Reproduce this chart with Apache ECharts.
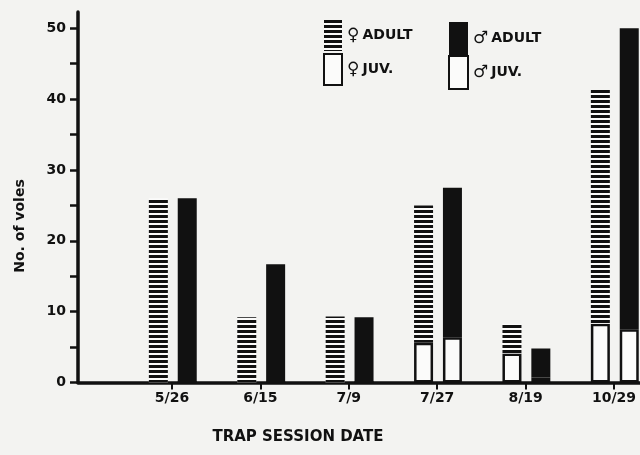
<!DOCTYPE html>
<html><head><meta charset="utf-8">
<script src="https://cdn.jsdelivr.net/npm/echarts@6/dist/echarts.min.js"></script>
<style>html,body{margin:0;padding:0;background:#f3f3f1}#c{width:640px;height:455px}</style>
</head><body><div id="c"></div>
<script>
// Trap session dates (categories)
const dates = ['5/26', '6/15', '7/9', '7/27', '8/19', '10/29'];
// Number of voles per group
const femaleJuv   = [0, 0, 0, 5.6, 4.1, 8.3];
const femaleAdult = [26, 9.2, 9.3, 19.4, 4.2, 33];
const maleJuv     = [0, 0, 0, 6.4, 0.7, 7.5];
const maleAdult   = [26, 16.7, 9.2, 21.1, 4.1, 42.5];
// Axis ticks / labels
const yTicks = [0, 5, 10, 15, 20, 25, 30, 35, 40, 45, 50];
const yLabels = [0, 10, 20, 30, 40, 50];
const xTicks = [0, 1, 2, 3, 4, 5];
const names = ['♀ ADULT', '♀ JUV.', '♂ ADULT', '♂ JUV.'];

const INK = '#111';
const PAPER = '#fbfbfa';
const FONT = 'DejaVu Sans';

const hatch = {
  symbol: 'rect', symbolSize: 1, color: INK,
  dashArrayX: [1, 0], dashArrayY: [2.5, 1.5], rotation: 0
};

const chart = echarts.init(document.getElementById('c'));
const legendText = {
  fontFamily: FONT, fontWeight: 'bold', fontSize: 14, color: INK,
  rich: {
    s: { fontFamily: FONT, fontWeight: 'bold', fontSize: 17, color: INK },
    t: { fontFamily: FONT, fontWeight: 'bold', fontSize: 14, color: INK, padding: [0, 0, 0, 3] }
  }
};
const legendFmt = n => { const p = n.split(' '); return '{s|' + p[0] + '}{t|' + p[1] + '}'; };

chart.setOption({
  backgroundColor: '#f3f3f1',
  animation: false,
  grid: [
    { left: 172.8, width: 442, top: 12, height: 370.5 },
    { left: 78, width: 562, top: 12, height: 370.5 }
  ],
  xAxis: [
    { type: 'category', gridIndex: 0, data: dates, boundaryGap: false, show: false },
    {
      type: 'value', gridIndex: 1, min: -1.063, max: 5.294,
      axisLine: { onZero: false, lineStyle: { color: INK, width: 3.5 } },
      axisTick: { customValues: xTicks, length: 7, lineStyle: { color: INK, width: 2 } },
      axisLabel: {
        customValues: xTicks, margin: 9,
        formatter: v => dates[Math.round(v)],
        fontFamily: FONT, fontWeight: 'bold', fontSize: 14, color: INK
      },
      splitLine: { show: false }
    }
  ],
  yAxis: [
    { type: 'value', gridIndex: 0, min: 0, max: 52.3, show: false },
    {
      type: 'value', gridIndex: 1, min: 0, max: 52.3,
      axisLine: { show: true, onZero: false, lineStyle: { color: INK, width: 3.5 } },
      axisTick: { show: true, customValues: yTicks, length: 8, lineStyle: { color: INK, width: 2.5 } },
      axisLabel: {
        customValues: yLabels, margin: 12,
        fontFamily: FONT, fontWeight: 'bold', fontSize: 14, color: INK
      },
      splitLine: { show: false }
    }
  ],
  legend: [
    {
      data: [names[0], names[1]], orient: 'vertical', left: 318, top: 15,
      itemWidth: 18, itemHeight: 31, itemGap: 2, icon: 'rect',
      textStyle: legendText, formatter: legendFmt, selectedMode: false
    },
    {
      data: [names[2], names[3]], orient: 'vertical', left: 443, top: 17,
      itemWidth: 19, itemHeight: 33, itemGap: 0, icon: 'rect',
      textStyle: legendText, formatter: legendFmt, selectedMode: false
    }
  ],
  series: [
    {
      name: names[1], type: 'bar', stack: 'f', xAxisIndex: 0, yAxisIndex: 0,
      data: femaleJuv, barWidth: 19, barGap: '52%', clip: false,
      itemStyle: { color: PAPER, borderColor: INK, borderWidth: 2.5 }
    },
    {
      name: names[0], type: 'bar', stack: 'f', xAxisIndex: 0, yAxisIndex: 0,
      data: femaleAdult, barWidth: 19, barGap: '52%', clip: false,
      itemStyle: { color: PAPER, decal: hatch }
    },
    {
      name: names[3], type: 'bar', stack: 'm', xAxisIndex: 0, yAxisIndex: 0,
      data: maleJuv, barWidth: 19, barGap: '52%', clip: false,
      itemStyle: { color: PAPER, borderColor: INK, borderWidth: 2.5 }
    },
    {
      name: names[2], type: 'bar', stack: 'm', xAxisIndex: 0, yAxisIndex: 0,
      data: maleAdult, barWidth: 19, barGap: '52%', clip: false,
      itemStyle: { color: INK }
    }
  ],
  graphic: [
    {
      type: 'text', x: 20, y: 226, rotation: Math.PI / 2,
      style: { text: 'No. of voles', fontFamily: FONT, fontWeight: 'bold', fontSize: 14,
               fill: INK, align: 'center', verticalAlign: 'middle' }
    },
    {
      type: 'text', x: 298, y: 437,
      style: { text: 'TRAP SESSION DATE', fontFamily: FONT, fontWeight: 'bold', fontSize: 15,
               fill: INK, align: 'center', verticalAlign: 'middle' }
    }
  ]
});
</script></body></html>
